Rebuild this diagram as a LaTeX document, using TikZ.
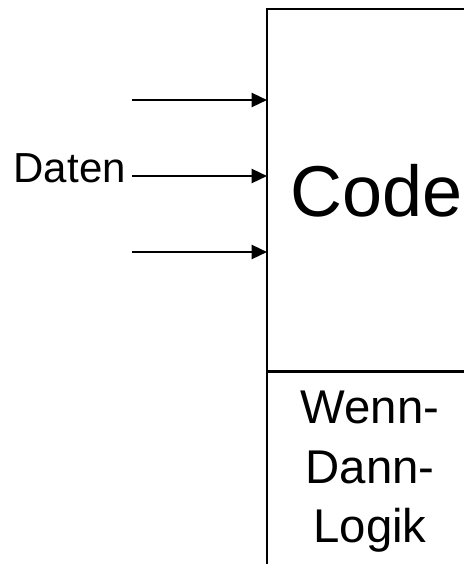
\documentclass[tikz,border=0pt]{standalone}
\usepackage{fontspec}
\setmainfont{Liberation Sans}
\usetikzlibrary{arrows.meta,positioning}

\tikzset{
	box/.style = {draw, line width=2pt, inner sep=0pt, outer sep=0pt, minimum width=165pt},
	input/.style = {line width=1.8pt, -{Triangle[length=11.5pt, width=10.5pt]}},
}

\begin{document}
\begin{tikzpicture}[x=0.75pt, y=-0.75pt]%
		\path[use as bounding box, clip] (0, 0) rectangle (464, 564);

		% block with its lower part
		\node[box, anchor=north west, minimum height=272pt, font=\fontsize{54pt}{60pt}\selectfont] (code) at (267, 9) {Code};
		\node[box, below=0pt of code, minimum height=240pt] (unten) {};
		\node[anchor=north, inner sep=0pt, align=center, font=\fontsize{35.5pt}{44.5pt}\selectfont] (logik) at (370, 391) {Wenn-\\Dann-\\Logik};

		% inputs
		\node[anchor=base east, inner sep=0pt, font=\fontsize{31.5pt}{36pt}\selectfont] (daten) at (126, 182) {Daten};
		\coordinate (in1) at (132, 100);
		\coordinate (in2) at (132, 176);
		\coordinate (in3) at (132, 252);

		\draw[input] (in1) -- (in1 -| code.west);
		\draw[input] (in2) -- (in2 -| code.west);
		\draw[input] (in3) -- (in3 -| code.west);
	\end{tikzpicture}
\end{document}
